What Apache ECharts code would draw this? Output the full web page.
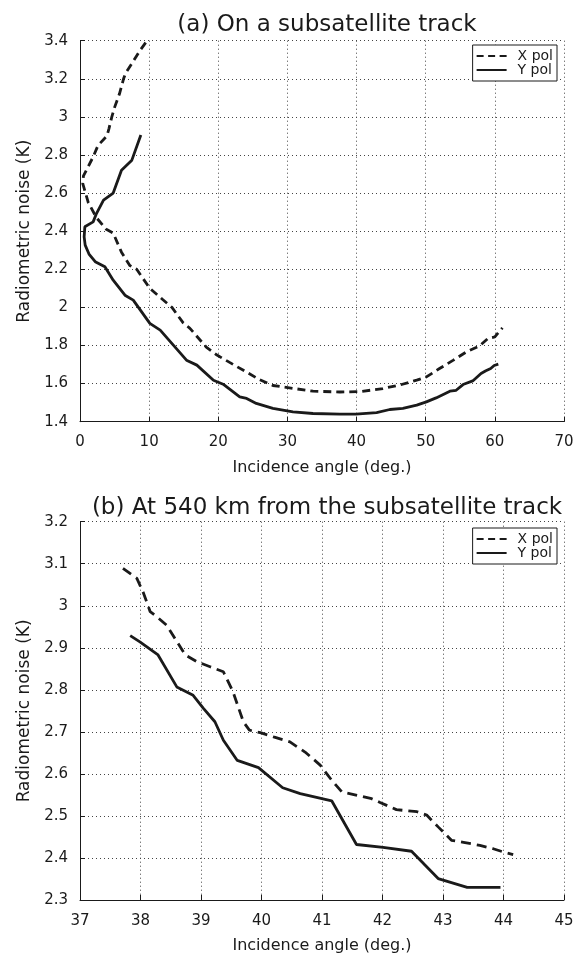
<!DOCTYPE html>
<html>
<head>
<meta charset="utf-8">
<script src="https://cdn.jsdelivr.net/npm/echarts@6/dist/echarts.min.js"></script>
<style>
html,body{margin:0;padding:0;background:#fff;}
#chart{width:583px;height:955px;}
</style>
</head>
<body>
<div id="chart"></div>
<script>
// (a) On a subsatellite track
var topXpolX = [9.5, 8.7, 7.5, 6.6, 6.3, 5.7, 5.0, 4.6, 4.2, 3.9, 2.6, 1.9, 0.5, 0.4, 1.2, 2.4, 3.8, 4.8, 6.0, 7.2, 8.2, 10.1, 12.0, 13.3, 14.9, 15.9, 18.3, 19.8, 21.7, 24.1, 26.0, 27.9, 30.8, 33.7, 37.6, 40.5, 43.8, 46.2, 48.7, 50.1, 52.0, 54.0, 55.9, 57.8, 59.0, 60.0, 61.1];
var topXpolY = [3.39, 3.35, 3.28, 3.23, 3.20, 3.12, 3.05, 3.00, 2.94, 2.90, 2.85, 2.79, 2.69, 2.65, 2.55, 2.47, 2.41, 2.39, 2.29, 2.22, 2.20, 2.10, 2.04, 2.00, 1.92, 1.89, 1.79, 1.75, 1.71, 1.66, 1.62, 1.59, 1.575, 1.56, 1.556, 1.558, 1.574, 1.592, 1.618, 1.635, 1.679, 1.723, 1.767, 1.798, 1.837, 1.845, 1.893];
var topYpolX = [8.8, 7.5, 6.0, 4.8, 3.4, 2.4, 1.9, 0.7, 0.5, 0.6, 0.75, 1.3, 2.2, 3.6, 4.8, 6.5, 7.7, 10.1, 11.6, 13.5, 15.4, 16.9, 19.3, 20.7, 23.1, 24.1, 25.5, 27.9, 30.8, 33.7, 37.6, 39.9, 42.9, 44.8, 46.7, 48.7, 50.1, 51.5, 53.5, 54.4, 55.4, 56.8, 58.0, 58.7, 59.4, 59.9, 60.5];
var topYpolY = [2.905, 2.773, 2.72, 2.60, 2.563, 2.494, 2.449, 2.423, 2.415, 2.37, 2.327, 2.28, 2.24, 2.213, 2.143, 2.064, 2.038, 1.916, 1.881, 1.802, 1.723, 1.697, 1.618, 1.597, 1.53, 1.522, 1.496, 1.47, 1.452, 1.443, 1.44, 1.44, 1.448, 1.464, 1.47, 1.487, 1.504, 1.525, 1.56, 1.565, 1.595, 1.614, 1.653, 1.667, 1.679, 1.695, 1.702];

// (b) At 540 km from the subsatellite track
var botXpolX = [37.71, 37.94, 38.05, 38.16, 38.27, 38.43, 38.57, 38.74, 38.93, 39.15, 39.37, 39.53, 39.7, 39.8, 39.98, 40.2, 40.47, 40.72, 40.97, 41.16, 41.33, 41.49, 41.82, 41.96, 42.23, 42.57, 42.73, 42.92, 43.14, 43.34, 43.61, 43.83, 44.0, 44.16];
var botXpolY = [3.089, 3.065, 3.03, 2.986, 2.974, 2.954, 2.922, 2.883, 2.867, 2.855, 2.843, 2.795, 2.724, 2.704, 2.698, 2.688, 2.676, 2.652, 2.621, 2.585, 2.557, 2.552, 2.541, 2.532, 2.515, 2.51, 2.502, 2.474, 2.442, 2.437, 2.43, 2.422, 2.414, 2.408];
var botYpolX = [37.83, 37.99, 38.29, 38.6, 38.87, 39.04, 39.23, 39.37, 39.6, 39.95, 40.35, 40.64, 41.16, 41.57, 42.01, 42.48, 42.92, 43.4, 43.95];
var botYpolY = [2.929, 2.914, 2.883, 2.807, 2.787, 2.756, 2.724, 2.68, 2.632, 2.615, 2.567, 2.553, 2.536, 2.432, 2.425, 2.416, 2.351, 2.33, 2.33];

var titles = ['(a) On a subsatellite track', '(b) At 540 km from the subsatellite track'];
var seriesNames = ['X pol', 'Y pol'];
var xName = 'Incidence angle (deg.)';
var yName = 'Radiometric noise (K)';

function zip(xs, ys) { return xs.map(function (x, i) { return [x, ys[i]]; }); }

var FONT = 'DejaVu Sans';
var INK = '#1a1a1a';
var DASH_ICON = 'path://M0,0h7v2h-7zM11.5,0h7v2h-7zM23,0h7v2h-7z';
var SOLID_ICON = 'path://M0,0h30v2h-30z';

function xAxisCfg(gi, min, max, interval, margin) {
  return {
    gridIndex: gi, type: 'value', min: min, max: max, interval: interval,
    name: xName, nameLocation: 'middle', nameGap: 38,
    nameTextStyle: { fontFamily: FONT, fontSize: 16, color: INK },
    axisLine: { show: true, lineStyle: { color: INK, width: 1 } },
    axisTick: { show: true, inside: true, length: 5, lineStyle: { color: INK } },
    axisLabel: { fontFamily: FONT, fontSize: 15, color: INK, margin: margin },
    splitLine: { show: true, lineStyle: { color: '#444', type: [1, 3], width: 1 } }
  };
}
function yAxisCfg(gi, min, max, interval) {
  return {
    gridIndex: gi, type: 'value', min: min, max: max, interval: interval,
    name: yName, nameLocation: 'middle', nameGap: 42, nameRotate: 90,
    nameTextStyle: { fontFamily: FONT, fontSize: 17, color: INK },
    axisLine: { show: true, lineStyle: { color: INK, width: 1 } },
    axisTick: { show: true, inside: true, length: 5, lineStyle: { color: INK } },
    axisLabel: { fontFamily: FONT, fontSize: 15, color: INK, margin: 12 },
    splitLine: { show: true, lineStyle: { color: '#444', type: [1, 3], width: 1 } }
  };
}
function lineSeries(name, gi, data, dash) {
  return {
    name: name, type: 'line', xAxisIndex: gi, yAxisIndex: gi,
    data: data, symbol: 'none', smooth: false, animation: false,
    lineStyle: { color: INK, width: 2.8, type: dash },
    itemStyle: { color: INK }
  };
}
function legendCfg(top) {
  return {
    data: [
      { name: seriesNames[0], icon: DASH_ICON },
      { name: seriesNames[1], icon: SOLID_ICON }
    ],
    orient: 'vertical', right: 26, top: top,
    itemWidth: 30, itemHeight: 2.5, itemGap: 0,
    padding: [4, 4, 4, 4],
    backgroundColor: '#fff', borderColor: INK, borderWidth: 1, borderRadius: 0,
    textStyle: { fontFamily: FONT, fontSize: 14, color: INK, lineHeight: 12.7, padding: [0, 0, 0, 6] },
    selectedMode: false
  };
}

var chart = echarts.init(document.getElementById('chart'), null, { renderer: 'canvas' });
chart.setOption({
  backgroundColor: '#fff',
  animation: false,
  title: [
    { text: titles[0], left: 322, top: 9, textAlign: 'center',
      textStyle: { fontFamily: FONT, fontSize: 23, fontWeight: 'normal', color: INK } },
    { text: titles[1], left: 322, top: 492, textAlign: 'center',
      textStyle: { fontFamily: FONT, fontSize: 23, fontWeight: 'normal', color: INK } }
  ],
  grid: [
    { left: 80, right: 19, top: 40.7, height: 381 },
    { left: 80, right: 19, top: 521.7, height: 378.5 }
  ],
  legend: [legendCfg(45), legendCfg(528)],
  xAxis: [xAxisCfg(0, 0, 70, 10, 13), xAxisCfg(1, 37, 45, 1, 14)],
  yAxis: [yAxisCfg(0, 1.4, 3.4, 0.2), yAxisCfg(1, 2.3, 3.2, 0.1)],
  series: [
    lineSeries(seriesNames[0], 0, zip(topXpolX, topXpolY), [8, 5]),
    lineSeries(seriesNames[1], 0, zip(topYpolX, topYpolY), 'solid'),
    lineSeries(seriesNames[0], 1, zip(botXpolX, botXpolY), [10, 6]),
    lineSeries(seriesNames[1], 1, zip(botYpolX, botYpolY), 'solid')
  ]
});
</script>
</body>
</html>
